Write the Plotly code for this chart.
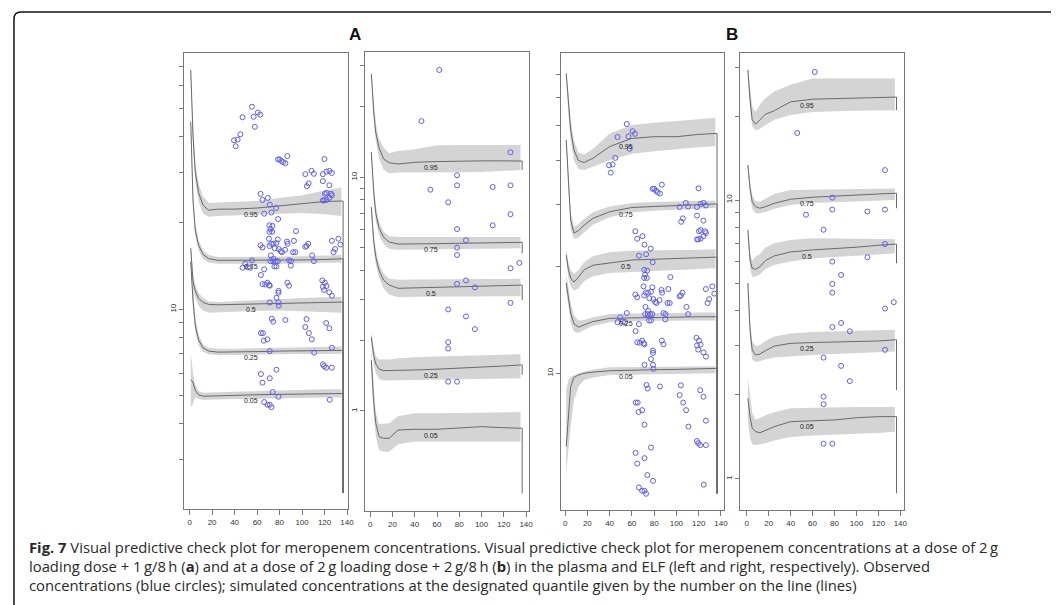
import numpy as np
import plotly.graph_objects as go

# ---------------- data ----------------
T = [1, 3, 5, 8, 12, 17, 25, 40, 60, 80, 100, 120, 135]
T_DROP = 136.5
QUANTILES = ["0.05", "0.25", "0.5", "0.75", "0.95"]
LABEL_T = 55
X_TICKS = [0, 20, 40, 60, 80, 100, 120, 140]

# A, plasma (left)  -- order: 0.05, 0.25, 0.5, 0.75, 0.95
AL_MED = [
    [5.68, 5.59, 5.24, 5.04, 4.99, 4.99, 5.00, 5.02, 5.05, 5.06, 5.09, 5.10, 5.10],
    [14.6, 10.77, 8.82, 7.82, 7.34, 7.16, 7.10, 7.10, 7.13, 7.16, 7.18, 7.20, 7.20],
    [16.3, 12.5, 11.6, 10.9, 10.57, 10.4, 10.37, 10.4, 10.5, 10.54, 10.57, 10.6, 10.6],
    [44.9, 24.0, 18.9, 16.7, 15.5, 15.0, 14.8, 14.8, 14.8, 14.8, 14.85, 14.9, 15.0],
    [67.9, 40.3, 30.1, 25.4, 23.0, 22.1, 22.3, 22.3, 22.5, 22.9, 23.2, 23.7, 23.8],
]
AL_LO = [
    [4.55, 4.7, 4.95, 4.88, 4.85, 4.85, 4.86, 4.88, 4.9, 4.91, 4.93, 4.94, 4.94],
    [14.0, 10.1, 8.3, 7.5, 7.12, 6.98, 6.93, 6.93, 6.96, 6.98, 7.0, 7.01, 7.01],
    [15.6, 11.8, 11.0, 10.3, 9.9, 9.73, 9.75, 9.8, 9.89, 9.9, 9.85, 9.8, 9.73],
    [43.5, 22.5, 17.9, 16.0, 15.0, 14.55, 14.4, 14.4, 14.4, 14.4, 14.45, 14.5, 14.55],
    [65.0, 37.0, 27.8, 23.6, 21.5, 21.0, 21.1, 21.2, 21.4, 21.5, 21.6, 21.4, 21.1],
]
AL_HI = [
    [7.1, 6.0, 5.45, 5.2, 5.13, 5.13, 5.15, 5.17, 5.2, 5.22, 5.25, 5.27, 5.28],
    [15.2, 11.5, 9.4, 8.15, 7.56, 7.36, 7.3, 7.3, 7.33, 7.36, 7.4, 7.42, 7.43],
    [17.0, 13.3, 12.2, 11.4, 10.95, 10.65, 10.6, 10.65, 10.77, 10.85, 10.95, 11.0, 11.06],
    [46.3, 25.6, 19.9, 17.4, 16.0, 15.45, 15.2, 15.2, 15.2, 15.25, 15.3, 15.35, 15.45],
    [71.0, 44.0, 32.6, 27.3, 24.6, 23.4, 23.5, 23.6, 23.8, 24.4, 24.9, 25.9, 26.5],
]
AL_DROP = [2.3, 2.3, 2.3, 2.3, 2.3]

# A, ELF (right)
AR_MED = [
    [1.65, 1.114, 0.886, 0.776, 0.764, 0.764, 0.829, 0.835, 0.835, 0.848, 0.857, 0.848, 0.843],
    [2.07, 1.74, 1.59, 1.51, 1.488, 1.488, 1.494, 1.498, 1.51, 1.523, 1.538, 1.558, 1.574],
    [7.46, 5.39, 4.57, 3.98, 3.63, 3.46, 3.35, 3.36, 3.38, 3.40, 3.42, 3.44, 3.46],
    [12.83, 8.82, 7.01, 6.05, 5.54, 5.29, 5.18, 5.18, 5.20, 5.22, 5.24, 5.27, 5.27],
    [27.7, 19.4, 15.5, 13.35, 11.98, 11.55, 11.40, 11.59, 11.68, 11.74, 11.76, 11.76, 11.74],
]
AR_LO = [
    [1.5, 0.98, 0.78, 0.68, 0.67, 0.67, 0.72, 0.74, 0.739, 0.739, 0.74, 0.74, 0.74],
    [1.95, 1.6, 1.45, 1.37, 1.35, 1.35, 1.355, 1.357, 1.36, 1.365, 1.37, 1.375, 1.38],
    [7.1, 5.0, 4.25, 3.7, 3.35, 3.15, 3.07, 3.08, 3.08, 3.08, 3.09, 3.1, 3.1],
    [12.3, 8.2, 6.5, 5.65, 5.2, 4.95, 4.9, 4.9, 4.92, 4.93, 4.95, 4.97, 4.97],
    [26.7, 18.0, 14.3, 12.0, 10.8, 10.4, 10.48, 10.53, 10.5, 10.5, 10.53, 10.64, 10.75],
]
AR_HI = [
    [1.8, 1.25, 0.98, 0.88, 0.88, 0.886, 0.95, 0.977, 0.977, 0.98, 0.99, 0.99, 0.99],
    [2.2, 1.88, 1.72, 1.66, 1.66, 1.66, 1.68, 1.7, 1.71, 1.72, 1.73, 1.74, 1.75],
    [7.8, 5.8, 4.9, 4.25, 3.88, 3.68, 3.64, 3.65, 3.66, 3.66, 3.67, 3.67, 3.68],
    [13.4, 9.5, 7.6, 6.45, 5.85, 5.6, 5.55, 5.55, 5.56, 5.57, 5.57, 5.56, 5.55],
    [28.7, 21.0, 17.0, 14.6, 13.4, 12.67, 12.96, 13.2, 13.7, 13.75, 13.75, 13.75, 13.75],
]
AR_DROP = [0.444, 1.43, 2.98, 4.73, 10.75]

# B, plasma (left)
BL_MED = [
    [6.21, 7.70, 9.17, 9.74, 9.89, 10.0, 10.08, 10.17, 10.22, 10.24, 10.26, 10.30, 10.33],
    [18.0, 16.5, 14.8, 13.8, 13.5, 13.7, 14.0, 14.3, 14.35, 14.4, 14.45, 14.45, 14.45],
    [21.6, 19.6, 18.6, 18.1, 18.7, 19.6, 20.2, 20.5, 20.9, 21.0, 21.1, 21.2, 21.3],
    [45.6, 34.4, 27.1, 24.9, 25.3, 26.2, 27.4, 28.6, 29.4, 29.6, 29.8, 30.0, 30.1],
    [70.4, 56.6, 48.7, 42.7, 39.9, 39.4, 40.5, 43.7, 46.1, 46.6, 46.6, 47.3, 47.6],
]
BL_LO = [
    [5.22, 5.94, 7.07, 8.4, 9.17, 9.57, 9.74, 9.89, 9.92, 9.95, 9.97, 9.99, 10.0],
    [17.0, 15.5, 13.9, 13.1, 13.0, 13.25, 13.6, 13.95, 14.05, 14.1, 14.1, 14.1, 14.1],
    [20.8, 18.6, 17.6, 17.1, 17.4, 18.2, 18.8, 19.2, 19.4, 19.5, 19.6, 19.7, 19.8],
    [44.0, 32.5, 25.6, 24.0, 24.2, 25.0, 26.3, 27.6, 28.5, 28.8, 29.0, 29.2, 29.3],
    [68.5, 53.5, 45.5, 40.0, 37.8, 37.5, 38.3, 40.0, 41.7, 42.4, 43.0, 43.5, 43.8],
]
BL_HI = [
    [8.97, 9.57, 9.78, 9.89, 10.0, 10.1, 10.26, 10.4, 10.42, 10.44, 10.45, 10.47, 10.48],
    [19.0, 17.6, 15.8, 14.6, 14.1, 14.15, 14.4, 14.7, 14.75, 14.8, 14.8, 14.85, 14.85],
    [22.4, 20.6, 19.6, 19.1, 19.6, 20.6, 21.4, 22.0, 22.2, 22.3, 22.3, 22.35, 22.4],
    [47.2, 36.4, 28.7, 25.9, 26.4, 27.3, 28.5, 29.6, 30.3, 30.5, 30.6, 30.7, 30.8],
    [72.3, 60.0, 52.0, 45.5, 42.0, 41.5, 43.0, 47.6, 50.3, 51.0, 51.5, 52.2, 52.7],
]
BL_DROP = [4.58, 4.58, 4.58, 4.58, 4.58]

# B, ELF (right)
BR_MED = [
    [1.94, 1.67, 1.517, 1.475, 1.462, 1.487, 1.537, 1.602, 1.615, 1.625, 1.655, 1.67, 1.67],
    [5.03, 3.42, 2.90, 2.78, 2.80, 2.88, 2.99, 3.06, 3.08, 3.09, 3.10, 3.12, 3.15],
    [7.80, 6.09, 5.69, 5.64, 5.76, 6.06, 6.30, 6.51, 6.62, 6.69, 6.77, 6.88, 6.95],
    [13.35, 11.0, 9.86, 9.46, 9.34, 9.46, 9.73, 10.06, 10.23, 10.34, 10.42, 10.51, 10.57],
    [29.3, 22.8, 19.4, 18.7, 19.4, 20.3, 20.9, 22.5, 23.0, 23.1, 23.2, 23.2, 23.4],
]
BR_LO = [
    [1.62, 1.4, 1.33, 1.32, 1.33, 1.34, 1.37, 1.41, 1.43, 1.44, 1.45, 1.46, 1.475],
    [4.7, 3.15, 2.68, 2.63, 2.64, 2.68, 2.72, 2.74, 2.78, 2.8, 2.82, 2.84, 2.86],
    [7.4, 5.7, 5.3, 5.31, 5.4, 5.65, 5.85, 6.01, 6.18, 6.25, 6.32, 6.38, 6.44],
    [12.8, 10.4, 9.3, 8.96, 8.96, 9.05, 9.3, 9.6, 9.75, 9.85, 9.9, 9.95, 10.0],
    [28.4, 21.6, 18.4, 17.8, 18.0, 18.6, 19.4, 20.2, 20.7, 20.8, 20.9, 21.0, 21.0],
]
BR_HI = [
    [2.32, 1.95, 1.72, 1.63, 1.65, 1.69, 1.73, 1.79, 1.8, 1.8, 1.81, 1.81, 1.81],
    [5.4, 3.7, 3.1, 2.98, 3.02, 3.12, 3.24, 3.32, 3.36, 3.38, 3.4, 3.41, 3.42],
    [8.2, 6.45, 6.05, 6.26, 6.4, 6.75, 7.0, 7.19, 7.29, 7.29, 7.27, 7.25, 7.23],
    [13.9, 11.6, 10.4, 9.9, 9.86, 10.1, 10.5, 10.86, 10.9, 10.95, 10.97, 10.99, 11.0],
    [30.1, 24.8, 21.6, 20.7, 22.0, 23.2, 24.5, 25.9, 27.3, 27.3, 27.3, 27.3, 27.3],
]
BR_DROP = [0.886, 2.08, 5.93, 9.34, 21.0]

# Observed plasma concentrations (same observations in A and B)
PLASMA_T = [
    55.4, 47.1, 56.9, 60.7, 62.8, 58.0, 45.1, 42.7, 39.5, 41.0,
    78.7, 80.1, 81.6, 83.1, 85.2, 86.9, 119.9,
    102.9, 108.4, 110.5, 118.5, 121.7, 124.3, 126.5,
    105.8, 104.3, 118.5, 124.3,
    120.3, 121.7, 125.8, 126.5, 124.3, 119.6, 121.7, 118.5,
    63.1, 69.5, 64.8, 71.3, 66.3, 72.8, 76.9, 78.7,
    71.0, 73.7, 71.9, 71.0, 73.4, 94.6, 70.5, 78.4,
    63.1, 64.8, 71.0, 72.5, 74.6, 77.2, 86.6, 87.2, 92.8,
    75.7, 79.3, 81.0, 84.9, 82.2, 104.0, 105.5, 102.9, 92.0, 94.0,
    126.5, 132.3, 134.1, 129.4, 128.0, 109.0, 110.5,
    72.2, 74.6, 71.9, 74.3, 76.6, 78.4, 88.4, 90.2,
    75.4, 77.2, 90.0, 55.4, 49.5, 51.9, 47.1, 53.9,
    118.0, 66.3, 63.4,
    64.8, 69.2, 70.7, 67.2, 71.3, 86.9, 88.4, 79.0, 79.0, 77.2, 71.3, 79.0, 79.3,
    120.3, 118.5, 121.7, 119.6, 124.3, 126.5,
    73.1, 74.3, 85.2, 104.0, 102.9, 106.1, 108.7, 121.4, 124.3,
    63.4, 65.2, 66.0, 69.2, 71.3, 110.8, 126.5,
    118.5, 119.6, 121.4, 126.5, 77.2, 63.4, 71.3, 64.8, 73.9, 79.0, 124.6, 66.3, 69.2, 71.3, 72.8,
]
PLASMA_C = [
    50.6, 46.5, 46.7, 48.3, 47.5, 43.1, 40.6, 38.9, 38.7, 36.9,
    33.2, 33.2, 32.8, 32.5, 32.2, 34.1, 33.3,
    29.5, 30.3, 29.6, 29.5, 30.1, 30.3, 29.8,
    27.4, 26.8, 27.9, 27.0,
    25.2, 25.4, 25.2, 24.9, 24.4, 23.9, 24.0, 23.9,
    25.2, 24.4, 24.0, 23.1, 21.5, 21.7, 22.5, 20.6,
    19.6, 19.5, 19.0, 18.6, 18.6, 18.7, 17.6, 17.5,
    16.7, 16.4, 16.6, 16.9, 16.9, 17.0, 17.2, 16.9, 17.3,
    16.3, 16.2, 15.9, 16.1, 15.8, 16.6, 16.9, 16.5, 15.8, 15.8,
    17.3, 17.6, 16.8, 16.2, 15.8, 15.4, 14.7,
    15.4, 15.0, 14.7, 14.7, 14.7, 14.7, 14.8, 14.7,
    14.1, 14.1, 14.2, 14.8, 14.4, 14.0, 13.95, 13.95,
    12.6, 13.77, 13.16,
    12.24, 12.37, 12.15, 12.2, 12.08, 12.37, 12.08, 11.6, 11.42, 10.97, 10.57, 10.57, 10.3,
    12.37, 11.98, 12.05, 11.67, 11.46, 11.15,
    9.27, 9.06, 9.18, 9.25, 8.68, 8.27, 7.87, 8.96, 8.59,
    8.27, 8.27, 7.78, 7.87, 7.16, 7.07, 7.35,
    6.44, 6.35, 6.27, 6.27, 6.17, 5.96, 5.76, 5.56, 5.16, 4.97, 4.85, 4.76, 4.66, 4.66, 4.57,
]

# Observed ELF concentrations (same observations in A and B)
ELF_T = [62, 46, 126, 78, 78, 54, 110, 126, 70, 126, 110, 78, 86, 78, 78,
         134, 126, 86, 78, 94, 126, 70, 86, 94, 70, 70, 70, 78]
ELF_C = [28.8, 17.4, 12.8, 10.2, 9.24, 8.85, 9.09, 9.24, 7.82, 6.95, 6.23, 6.01, 5.38, 5.0, 4.65,
         4.30, 4.08, 3.62, 3.50, 3.38, 2.90, 2.72, 2.54, 2.24, 1.97, 1.85, 1.335, 1.335]

AL_YTICKS = [3, 4, 5, 6, 7, 8, 9, 10, 20, 30, 40, 50, 60, 70]
AR_YTICKS = [1, 2, 3, 4, 5, 6, 7, 8, 9, 10, 20, 30]
BL_YTICKS = [10, 20, 30, 40, 50, 60, 70]
BR_YTICKS = [1, 2, 3, 4, 5, 6, 7, 8, 9, 10, 20, 30]
Y_LABELLED = [1, 10]

CAPTION = [
    "<b>Fig. 7</b> Visual predictive check plot for meropenem concentrations. Visual predictive check plot for meropenem concentrations at a dose of 2\u2009g",
    "loading dose + 1\u2009g/8\u2009h (<b>a</b>) and at a dose of 2\u2009g loading dose + 2\u2009g/8\u2009h (<b>b</b>) in the plasma and ELF (left and right, respectively). Observed",
    "concentrations (blue circles); simulated concentrations at the designated quantile given by the number on the line (lines)",
]

# ---------------- figure ----------------
# The page body has an 8px margin, so the figure is drawn 8px smaller and
# every page-pixel position is shifted by that offset.
OFF = 8
W, H = 1059 - OFF, 605 - OFF


def fx(px):
    return (px - OFF) / W


def fy(py):
    return 1 - (py - OFF) / H


BAND = "rgb(212,212,212)"
LINE = "rgb(105,105,105)"
PT = "rgb(95,95,235)"
AX = "rgb(120,120,120)"

panels = [
    dict(med=AL_MED, lo=AL_LO, hi=AL_HI, drop=AL_DROP, pt=PLASMA_T, pc=PLASMA_C,
         pxx=(185, 350), pyy=(53, 509), xr=(-5.0, 140.9), yr=(0.306, 1.891), yt=AL_YTICKS),
    dict(med=AR_MED, lo=AR_LO, hi=AR_HI, drop=AR_DROP, pt=ELF_T, pc=ELF_C,
         pxx=(367.3, 532.3), pyy=(52.3, 511), xr=(-4.47, 142.9), yr=(-0.428, 1.535), yt=AR_YTICKS),
    dict(med=BL_MED, lo=BL_LO, hi=BL_HI, drop=BL_DROP, pt=PLASMA_T, pc=PLASMA_C,
         pxx=(564, 727.7), pyy=(53.3, 510), xr=(-3.84, 142.4), yr=(0.614, 1.904), yt=BL_YTICKS),
    dict(med=BR_MED, lo=BR_LO, hi=BR_HI, drop=BR_DROP, pt=ELF_T, pc=ELF_C,
         pxx=(744.7, 909), pyy=(52.7, 510), xr=(-5.7, 143.2), yr=(-0.1123, 1.5285), yt=BR_YTICKS),
]

fig = go.Figure()
annotations = []
layout_axes = {}

for i, p in enumerate(panels):
    n = "" if i == 0 else str(i + 1)
    xa, ya = "x" + n, "y" + n
    for q in range(5):
        fig.add_trace(go.Scatter(
            x=T + T[::-1], y=p["hi"][q] + p["lo"][q][::-1],
            fill="toself", fillcolor=BAND, line=dict(width=0), mode="lines",
            hoverinfo="skip", showlegend=False, xaxis=xa, yaxis=ya))
    for q in range(5):
        fig.add_trace(go.Scatter(
            x=T + [T_DROP, T_DROP], y=p["med"][q] + [p["med"][q][-1], p["drop"][q]],
            mode="lines", line=dict(color=LINE, width=1),
            hoverinfo="skip", showlegend=False, xaxis=xa, yaxis=ya))
        ylab = np.interp(LABEL_T, T, np.log10(p["med"][q]))
        annotations.append(dict(
            x=LABEL_T, y=float(ylab), xref=xa, yref=ya, text=QUANTILES[q],
            showarrow=False, yshift=-6, xanchor="center", yanchor="middle",
            font=dict(family="Liberation Sans, Arial", size=7, color="#222")))
    fig.add_trace(go.Scatter(
        x=p["pt"], y=p["pc"], mode="markers",
        marker=dict(symbol="circle-open", size=5, color=PT, line=dict(width=1, color=PT)),
        showlegend=False, xaxis=xa, yaxis=ya))

    x0, x1 = p["pxx"]
    y0, y1 = p["pyy"]
    ticktext = [str(v) if v in Y_LABELLED else "" for v in p["yt"]]
    layout_axes["xaxis" + n] = dict(
        domain=[fx(x0), fx(x1)], range=list(p["xr"]), anchor=ya,
        showgrid=False, zeroline=False, showline=True, mirror=True,
        linecolor=AX, linewidth=1, ticks="outside", ticklen=5, tickcolor=AX,
        tickvals=X_TICKS, ticktext=[str(v) for v in X_TICKS],
        tickfont=dict(family="Liberation Sans, Arial", size=8, color="#333"))
    layout_axes["yaxis" + n] = dict(
        domain=[fy(y1), fy(y0)], type="log", range=list(p["yr"]), anchor=xa,
        showgrid=False, zeroline=False, showline=True, mirror=True,
        linecolor=AX, linewidth=1, ticks="outside", ticklen=4, tickcolor=AX,
        tickvals=p["yt"], ticktext=ticktext, tickangle=-90,
        tickfont=dict(family="Liberation Sans, Arial", size=8, color="#333"))

for letter, cx in (("A", 357), ("B", 736)):
    annotations.append(dict(x=fx(cx), y=fy(34), xref="paper", yref="paper",
                            xanchor="center", yanchor="middle",
                            text="<b>%s</b>" % letter, showarrow=False,
                            font=dict(family="Liberation Sans, Arial", size=17, color="#111")))

for k, line in enumerate(CAPTION):
    annotations.append(dict(x=fx(27), y=fy(547 + 19 * k), xref="paper", yref="paper",
                            xanchor="left", yanchor="middle", text=line, showarrow=False,
                            font=dict(family="Open Sans", size=14.8, color="#2a2a2a")))

# outer rounded frame (top-left corner visible)
r = 7
frame_path = "M %f,%f L %f,%f Q %f,%f %f,%f L %f,%f" % (
    fx(14), fy(620), fx(14), fy(12 + r), fx(14), fy(12), fx(14 + r), fy(12), fx(1080), fy(12))

fig.update_layout(
    width=W, height=H, margin=dict(l=0, r=0, t=0, b=0),
    paper_bgcolor="white", plot_bgcolor="white", showlegend=False,
    annotations=annotations,
    shapes=[dict(type="path", path=frame_path, xref="paper", yref="paper",
                 line=dict(color="#111", width=1.5))],
    **layout_axes)

fig.write_html("out.html")
